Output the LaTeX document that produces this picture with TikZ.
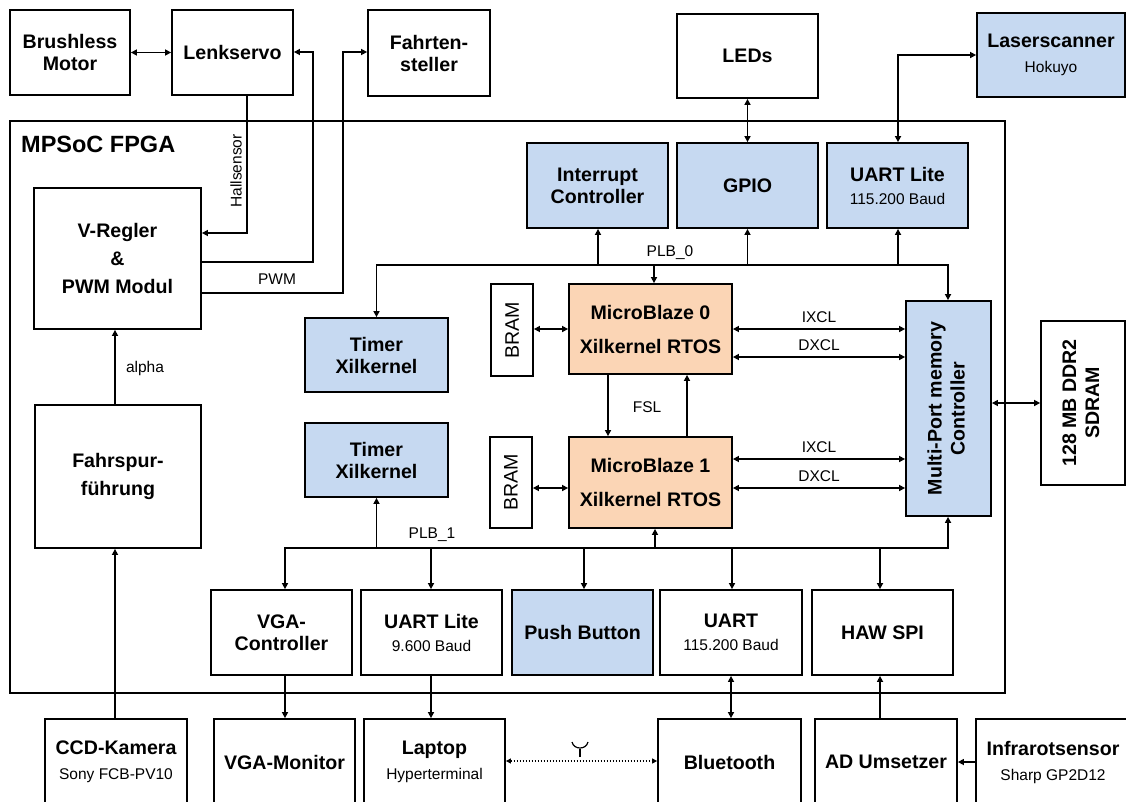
\documentclass[tikz,border=0pt]{standalone}
\usepackage{fontspec}
\setmainfont{Liberation Sans}
\usetikzlibrary{arrows.meta}
\definecolor{bluef}{RGB}{198,217,241}
\definecolor{orangef}{RGB}{251,213,181}
\newcommand{\sub}[1]{{\mdseries\fontsize{15.5}{18}\selectfont #1}}
\newcommand{\bx}[7]{\node[box,#6,minimum width={#4-#2},minimum height={#5-#3}] (#1) at ({(#2+#4)/2},{(#3+#5)/2}) {#7};}
\tikzset{
  box/.style={draw, line width=1.8pt, inner sep=0pt, align=center, font=\bfseries\fontsize{19.6}{22}\selectfont},
  bl/.style={fill=bluef},
  org/.style={fill=orangef},
  conn/.style={line width=1.8pt},
  lbl/.style={font=\fontsize{15.5}{18}\selectfont, inner sep=0pt},
  >={Triangle[length=6pt,width=6pt]}
}
\begin{document}
\begin{tikzpicture}[x=1pt,y=-1pt]
\useasboundingbox (0,0) rectangle (1126,801);
\fill[white] (0,0) rectangle (1126,801);
\begin{scope}
\clip (0,0) rectangle (1126,801);
% FPGA frame
\bx{fpga}{10}{121}{1005}{693}{}{}
\node[anchor=base west, font=\bfseries\fontsize{23.5}{26}\selectfont, inner sep=0pt] (fpgalbl) at (21,152) {MPSoC FPGA};
% top outside
\bx{bm}{10}{10}{130}{95}{}{Brushless\\Motor}
\bx{ls}{172}{10}{293}{95}{}{Lenkservo}
\bx{fs}{368}{10}{490}{96}{}{Fahrten-\\steller}
\bx{leds}{677}{14}{818}{98}{}{LEDs}
\bx{laser}{977}{13}{1125}{97}{bl}{Laserscanner\\[3pt]\sub{Hokuyo}}
% left blocks
\bx{vr}{34}{188}{201}{329}{font=\bfseries\fontsize{19.6}{28}\selectfont}{V-Regler\\\&\\PWM Modul}
\bx{fsf}{35}{405}{201}{548}{font=\bfseries\fontsize{19.6}{28}\selectfont}{Fahrspur-\\führung}
% top peripherals
\bx{ic}{527}{143}{668}{228}{bl}{Interrupt\\Controller}
\bx{gpio}{677}{143}{818}{228}{bl}{GPIO}
\bx{ul}{827}{143}{968}{228}{bl}{UART Lite\\[1pt]\sub{115.200 Baud}}
% timers
\bx{t1}{305}{318}{448}{392}{bl}{Timer\\Xilkernel}
\bx{t2}{305}{423}{448}{497}{bl}{Timer\\Xilkernel}
% BRAM
\bx{bram1}{491}{284}{533}{376}{font=\fontsize{19.6}{22}\selectfont}{\rotatebox{90}{BRAM}}
\bx{bram2}{490}{437}{532}{528}{font=\fontsize{19.6}{22}\selectfont}{\rotatebox{90}{BRAM}}
% MicroBlaze
\bx{mb0}{569}{284}{732}{374}{org}{MicroBlaze 0\\[12pt]Xilkernel RTOS}
\bx{mb1}{569}{437}{732}{528}{org}{MicroBlaze 1\\[12pt]Xilkernel RTOS}
% MPMC, SDRAM
\bx{mpmc}{906}{301}{991}{516}{bl}{\rotatebox{90}{\fontsize{19.6}{23}\selectfont\begin{tabular}{@{}c@{}}Multi-Port memory\\Controller\end{tabular}}}
\bx{sdram}{1041}{321}{1125}{485}{}{\rotatebox{90}{\fontsize{19.6}{23}\selectfont\begin{tabular}{@{}c@{}}128 MB DDR2\\SDRAM\end{tabular}}}
% bottom peripherals
\bx{vgac}{211}{590}{352}{675}{}{VGA-\\Controller}
\bx{ul2}{361}{590}{502}{675}{}{UART Lite\\[1pt]\sub{9.600 Baud}}
\bx{pb}{512}{590}{653}{675}{bl}{Push Button}
\bx{uart}{660}{590}{802}{675}{}{UART\\[1pt]\sub{115.200 Baud}}
\bx{haw}{812}{590}{953}{675}{}{HAW SPI}
% bottom outside
\bx{ccd}{45}{719}{187}{805}{}{CCD-Kamera\\[3pt]\sub{Sony FCB-PV10}}
\bx{vgam}{214}{719}{355}{805}{}{VGA-Monitor}
\bx{laptop}{364}{719}{505}{805}{}{Laptop\\[3pt]\sub{Hyperterminal}}
\bx{bt}{658}{719}{801}{805}{}{Bluetooth}
\bx{ad}{815}{719}{957}{805}{}{AD Umsetzer}
\bx{ir}{976}{719}{1130}{805}{}{Infrarotsensor\\[3pt]\sub{Sharp GP2D12}}

% connectors top
\draw[conn,<->] (bm.east) -- (ls.west);
\draw[conn,->] (ls.south -| 247,0) |- (vr.east |- 0,233);
\node[lbl, rotate=90] (hall) at (236,171) {Hallsensor};
\draw[conn,->] (vr.east |- 0,262) -| (313,52) -- (ls.east |- 0,52);
\draw[conn,->] (vr.east |- 0,293) -| (343,52) -- (fs.west |- 0,52);
\node[lbl] (pwm) at (277,279) {PWM};
\draw[conn,->] (fsf.north -| 115,0) -- (vr.south -| 115,0);
\node[lbl] (alpha) at (145,368) {alpha};
\draw[conn,->] (ccd.north -| 115,0) -- (fsf.south -| 115,0);
\draw[conn,<->] (leds.south) -- (gpio.north);
\draw[conn,<->] (ul.north -| 898,0) |- (laser.west |- 0,55);

% PLB_0
\draw[conn,<->] (t1.north) |- (948,265) -- (mpmc.north -| 948,0);
\draw[conn,->] (598,265) -- (ic.south -| 598,0);
\draw[conn,->] (747.5,265) -- (gpio.south);
\draw[conn,->] (898,265) -- (ul.south -| 898,0);
\draw[conn,->] (654,265) -- (mb0.north -| 654,0);
\node[lbl] (plb0) at (670,253) {PLB\_0};

% BRAM / XCL
\draw[conn,<->] (bram1.east |- 0,329) -- (mb0.west |- 0,329);
\draw[conn,<->] (bram2.east |- 0,488) -- (mb1.west |- 0,488);
\draw[conn,<->] (mb0.east |- 0,329) -- node[lbl, above=5pt] (ix0) {IXCL} (mpmc.west |- 0,329);
\draw[conn,<->] (mb0.east |- 0,357) -- node[lbl, above=5pt] (dx0) {DXCL} (mpmc.west |- 0,357);
\draw[conn,<->] (mb1.east |- 0,459) -- node[lbl, above=5pt] (ix1) {IXCL} (mpmc.west |- 0,459);
\draw[conn,<->] (mb1.east |- 0,488) -- node[lbl, above=5pt] (dx1) {DXCL} (mpmc.west |- 0,488);
% FSL
\draw[conn,->] (mb0.south -| 608,0) -- (mb1.north -| 608,0);
\draw[conn,->] (mb1.north -| 687,0) -- (mb0.south -| 687,0);
\node[lbl] (fsl) at (647,407) {FSL};
% SDRAM
\draw[conn,<->] (mpmc.east |- 0,403) -- (sdram.west |- 0,403);

% PLB_1
\draw[conn,<->] (vgac.north -| 285,0) |- (948,548) -- (mpmc.south -| 948,0);
\draw[conn,->] (431,548) -- (ul2.north -| 431,0);
\draw[conn,->] (584,548) -- (pb.north -| 584,0);
\draw[conn,->] (732,548) -- (uart.north -| 732,0);
\draw[conn,->] (880,548) -- (haw.north -| 880,0);
\draw[conn,->] (376.5,548) -- (t2.south);
\draw[conn,->] (655,548) -- (mb1.south -| 655,0);
\node[lbl] (plb1) at (432,535) {PLB\_1};

% bottom links
\draw[conn,->] (vgac.south -| 285,0) -- (vgam.north -| 285,0);
\draw[conn,->] (ul2.south -| 431,0) -- (laptop.north -| 431,0);
\draw[conn,<->] (uart.south -| 731,0) -- (bt.north -| 731,0);
\draw[conn,->] (ad.north -| 880,0) -- (haw.south -| 880,0);
\draw[conn,->] (ir.west |- 0,762) -- (ad.east |- 0,762);
\draw[line width=1.2pt, dash pattern=on 1.5pt off 1.5pt, <->, >={Triangle[length=5pt,width=5pt]}] (laptop.east |- 0,761) -- (bt.west |- 0,761);
\draw[line width=1.2pt] (580,757) -- (580,749);
\draw[line width=1.2pt] (572,742) .. controls (574,750) and (586,750) .. (588,742);
\end{scope}
\end{tikzpicture}
\end{document}
